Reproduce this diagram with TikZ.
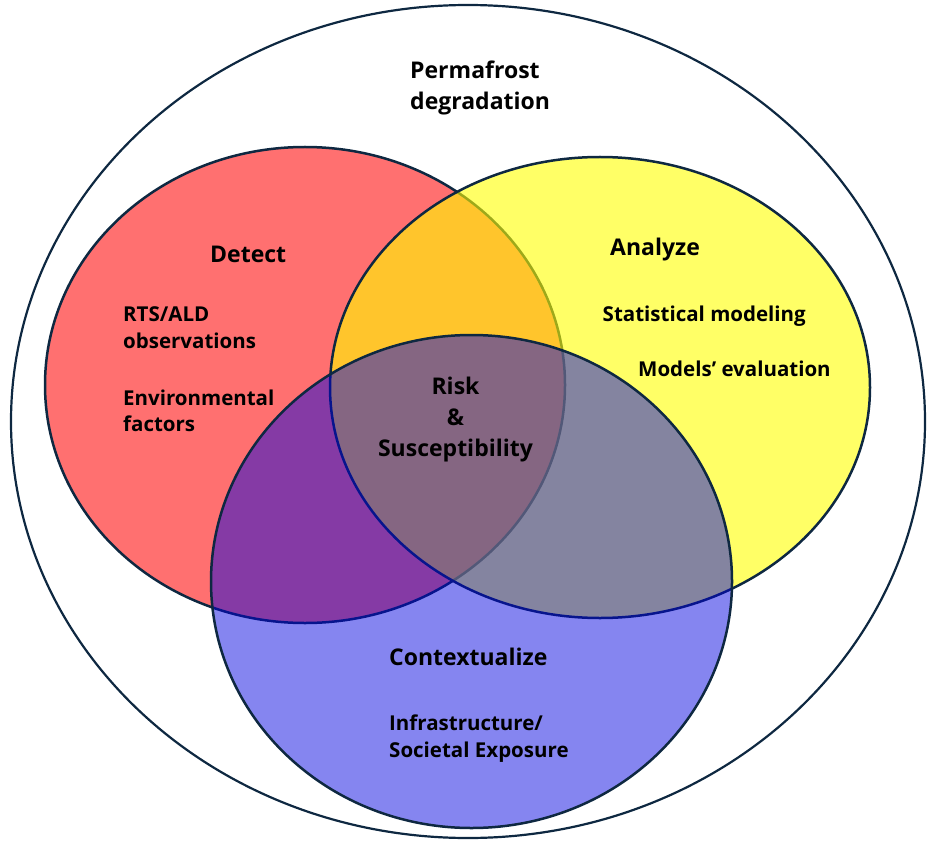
\documentclass[tikz,border=0pt]{standalone}
\usepackage{fontspec}
\setmainfont{Open Sans}
\usepackage{tikz}
\definecolor{navy}{RGB}{14,40,65}
\definecolor{salmon}{RGB}{255,112,112}
\definecolor{lemon}{RGB}{255,255,0}
\definecolor{royal}{RGB}{0,0,224}
\tikzset{
	ring/.style={draw=navy,line width=2.5pt},
	head/.style={font=\bfseries\fontsize{23}{31}\selectfont,inner sep=0pt,anchor=base west,align=left},
	item/.style={font=\bfseries\fontsize{20.5}{26.5}\selectfont,inner sep=0pt,anchor=base west,align=left},
}

\begin{document}
\begin{tikzpicture}[x=1pt,y=-1pt]
		\useasboundingbox (0,0) rectangle (928,842);
		\draw[ring,line width=2.2pt] (468,421.5) ellipse (457 and 416.5);%outer
		\draw[ring,fill=salmon] (305,385) ellipse (260 and 238);%detect
		\draw[ring,fill=lemon,fill opacity=0.6] (600,387.5) ellipse (270 and 230.5);%analyze
		\draw[ring,fill=royal,fill opacity=0.48] (471.5,581.5) ellipse (260.5 and 246.5);%contextualize
		\node[head] (perma) at (410,110) {Permafrost\\degradation};
		\node[head] (detect) at (210,262) {Detect};
		\node[item] (rts) at (123,348.3) {RTS/ALD\\observations};
		\node[item] (env) at (123,431.7) {Environmental\\factors};
		\node[head] (analyze) at (610,255) {Analyze};
		\node[item] (stat) at (602.5,321.5) {Statistical modeling};
		\node[item] (eval) at (638,376.5) {Models’ evaluation};
		\node[head,align=center,anchor=base] (risk) at (455.5,456.7) {Risk\\\&\\Susceptibility};
		\node[head] (context) at (389,665) {Contextualize};
		\node[item] (infra) at (389,757.3) {Infrastructure/\\Societal Exposure};
	\end{tikzpicture}
\end{document}
